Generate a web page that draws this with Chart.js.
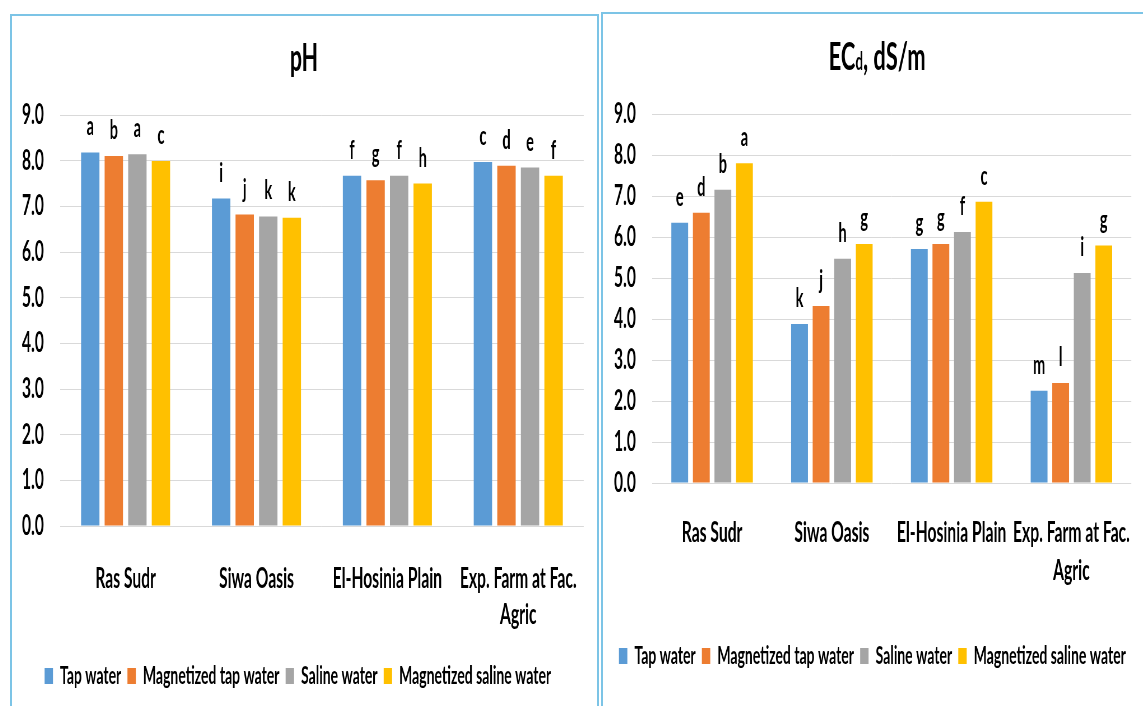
<!DOCTYPE html>
<html>
<head>
<meta charset="utf-8">
<script src="https://cdn.jsdelivr.net/npm/chart.js@4.4.1/dist/chart.umd.min.js"></script>
<style>
  html, body { margin: 0; padding: 0; background: #fff; }
  body { width: 1143px; height: 706px; overflow: hidden; position: relative; }
  .panel { position: absolute; border: 2px solid #7cc4e6; box-sizing: border-box; }
  canvas { position: absolute; }
</style>
</head>
<body>
<div class="panel" style="left:10px;top:14px;width:589px;height:730px"></div>
<div class="panel" style="left:601px;top:12px;width:570px;height:730px"></div>
<canvas id="phChart"></canvas>
<canvas id="ecChart"></canvas>
<script>
// ---- data ----
const categories = ['Ras Sudr', 'Siwa Oasis', 'El-Hosinia Plain', ['Exp. Farm at Fac.', 'Agric']];
const seriesNames = ['Tap water', 'Magnetized tap water', 'Saline water', 'Magnetized saline water'];
const seriesColors = ['#5b9bd5', '#ed7d31', '#a5a5a5', '#ffc000'];
const yTickLabels = ['0.0', '1.0', '2.0', '3.0', '4.0', '5.0', '6.0', '7.0', '8.0', '9.0'];

// soil pH
const phTap       = [8.18, 7.17, 7.67, 7.97];
const phMagTap    = [8.10, 6.82, 7.57, 7.89];
const phSaline    = [8.14, 6.78, 7.67, 7.85];
const phMagSaline = [7.99, 6.75, 7.50, 7.67];
const phLetters = [
  ['a', 'i', 'f', 'c'],
  ['b', 'j', 'g', 'd'],
  ['a', 'k', 'f', 'e'],
  ['c', 'k', 'h', 'f']
];

// soil ECd, dS/m
const ecTap       = [6.35, 3.88, 5.71, 2.25];
const ecMagTap    = [6.59, 4.32, 5.83, 2.44];
const ecSaline    = [7.15, 5.47, 6.12, 5.12];
const ecMagSaline = [7.80, 5.83, 6.86, 5.79];
const ecLetters = [
  ['e', 'k', 'g', 'm'],
  ['d', 'j', 'g', 'l'],
  ['b', 'h', 'f', 'i'],
  ['a', 'g', 'c', 'g']
];

// ---- drawing ----
const FONT = 'Lato, "Liberation Sans", sans-serif';
const SX = 0.56; // the canvases are drawn wide and shown narrower (condensed look)
Chart.defaults.font.family = FONT;
Chart.defaults.font.weight = 'bold';
Chart.defaults.color = '#000';

function setupCanvas(id, left, top, w, h) {
  const c = document.getElementById(id);
  c.width = Math.round(w / SX);
  c.height = h;
  c.style.left = left + 'px';
  c.style.top = top + 'px';
  c.style.width = w + 'px';
  c.style.height = h + 'px';
  return c;
}

// significance letters above each bar
const lettersPlugin = {
  id: 'letters',
  afterDatasetsDraw(chart, args, opts) {
    const ctx = chart.ctx;
    ctx.save();
    ctx.font = 'bold ' + opts.size + 'px ' + FONT;
    ctx.fillStyle = '#000';
    ctx.textAlign = 'center';
    ctx.textBaseline = 'alphabetic';
    chart.data.datasets.forEach((ds, i) => {
      chart.getDatasetMeta(i).data.forEach((bar, j) => {
        ctx.fillText(opts.letters[i][j], bar.x, bar.y - opts.gap);
      });
    });
    ctx.restore();
  }
};

// heading with optional subscript parts
const headingPlugin = {
  id: 'heading',
  afterDraw(chart, args, opts) {
    const ctx = chart.ctx;
    ctx.save();
    ctx.fillStyle = '#000';
    ctx.textBaseline = 'alphabetic';
    ctx.textAlign = 'left';
    let total = 0;
    const widths = opts.parts.map(p => {
      ctx.font = 'bold ' + p.size + 'px ' + FONT;
      const w = ctx.measureText(p.text).width;
      total += w;
      return w;
    });
    let x = opts.cx / SX - total / 2;
    opts.parts.forEach((p, i) => {
      ctx.font = 'bold ' + p.size + 'px ' + FONT;
      ctx.fillText(p.text, x, opts.baseline);
      x += widths[i];
    });
    ctx.restore();
  }
};

function buildChart(canvas, values, letters, cfg) {
  return new Chart(canvas, {
    type: 'bar',
    data: {
      labels: categories,
      datasets: values.map((v, i) => ({
        label: seriesNames[i],
        data: v,
        backgroundColor: seriesColors[i],
        borderWidth: 0,
        categoryPercentage: 0.72,
        barPercentage: 0.78
      }))
    },
    options: {
      responsive: false,
      animation: false,
      devicePixelRatio: 1,
      layout: { padding: { top: cfg.padTop, right: cfg.padRight, bottom: cfg.padBottom, left: 0 } },
      scales: {
        x: {
          grid: { display: false },
          border: { display: false },
          ticks: {
            padding: cfg.xTickPad,
            maxRotation: 0,
            autoSkip: false,
            font: { size: 28, lineHeight: cfg.xLineHeight }
          },
          afterFit(scale) { scale.height = cfg.xHeight; }
        },
        y: {
          min: 0,
          max: 9,
          grid: { color: '#d9d9d9', lineWidth: 1, drawTicks: false },
          border: { display: false },
          ticks: {
            stepSize: 1,
            padding: cfg.yTickPad,
            font: { size: 28 },
            callback: (v, i) => yTickLabels[i]
          },
          afterFit(scale) { scale.width = cfg.yWidth; }
        }
      },
      plugins: {
        legend: {
          position: 'bottom',
          labels: {
            boxWidth: 15,
            boxHeight: 16,
            padding: 11,
            color: '#000',
            font: { size: 25 }
          }
        },
        tooltip: { enabled: false },
        letters: { letters: letters, size: 26, gap: 17 },
        heading: cfg.heading
      }
    },
    plugins: [lettersPlugin, headingPlugin]
  });
}

const phCanvas = setupCanvas('phChart', 12, 15, 584, 691);
buildChart(phCanvas, [phTap, phMagTap, phSaline, phMagSaline], phLetters, {
  padTop: 100, padRight: 22, padBottom: 7.5,
  yWidth: 86, yTickPad: 29,
  xHeight: 126.5, xTickPad: 27, xLineHeight: 1.286,
  heading: { parts: [{ text: 'pH', size: 38 }], cx: 292, baseline: 56 }
});

const ecCanvas = setupCanvas('ecChart', 604, 12, 539, 694);
buildChart(ecCanvas, [ecTap, ecMagTap, ecSaline, ecMagSaline], ecLetters, {
  padTop: 102, padRight: 4, padBottom: 27.5,
  yWidth: 86, yTickPad: 29,
  xHeight: 149.5, xTickPad: 23, xLineHeight: 1.357,
  heading: { parts: [{ text: 'EC', size: 39 }, { text: 'd', size: 24 }, { text: ', dS/m', size: 39 }], cx: 273, baseline: 58 }
});
</script>
</body>
</html>
